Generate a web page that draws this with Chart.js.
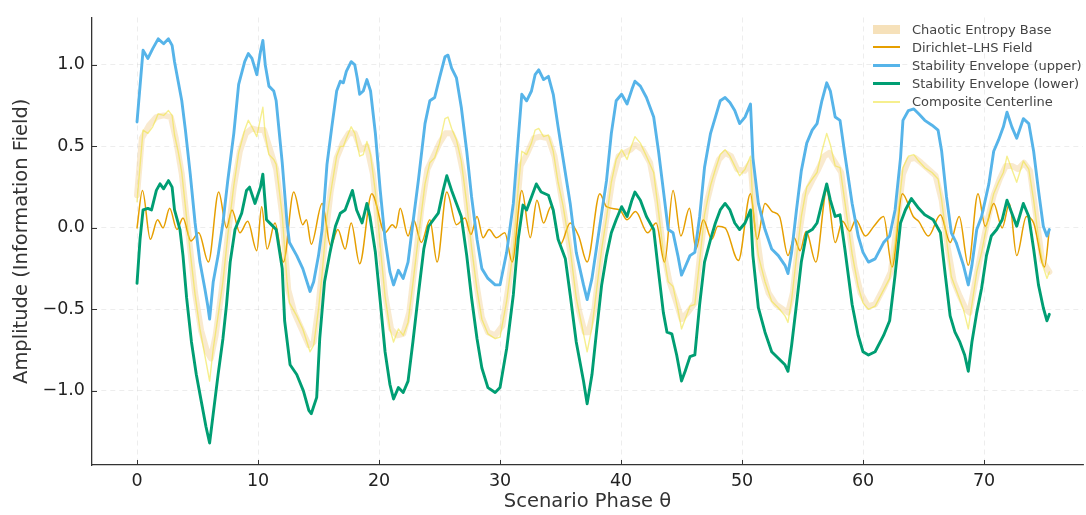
<!DOCTYPE html>
<html>
<head>
<meta charset="utf-8">
<title>Amplitude vs Scenario Phase</title>
<script src="https://cdn.jsdelivr.net/npm/chart.js@4.4.1/dist/chart.umd.min.js"></script>
<style>
  body { margin: 0; background: #fff; }
  #wrap { position: relative; width: 1086px; height: 515px; }
  #legend {
    position: absolute; left: 873px; top: 20px;
    font: 13px "DejaVu Sans", sans-serif; color: #444;
  }
  .item { display: flex; align-items: center; height: 18.2px; white-space: nowrap; }
  .swatch { width: 27px; margin-right: 12px; }
</style>
</head>
<body>
<div id="wrap">
  <canvas id="chart" width="1086" height="515"></canvas>
  <div id="legend"></div>
</div>
<script>
// tick positions
const xTicks = [0, 10, 20, 30, 40, 50, 60, 70];
const yTicks = [-1, -0.5, 0, 0.5, 1];

// [theta, amplitude] pairs
const entropyBase = [
  [0,0.2],[0.4,0.55],[1.0,0.63],[1.6,0.68],[2.2,0.69],[2.8,0.68],[3.2,0.55],[3.7,0.33],[4.2,0.0],[4.8,-0.4],
  [5.3,-0.63],[5.8,-0.76],[6.1,-0.8],[6.5,-0.66],[7.0,-0.38],[7.5,-0.05],[8.0,0.25],[8.5,0.47],[9.0,0.58],[9.5,0.61],
  [10.0,0.6],[10.5,0.6],[11.0,0.48],[11.5,0.36],[12.0,0.08],[12.5,-0.38],[13.0,-0.52],[13.6,-0.62],[14.2,-0.72],[14.6,-0.7],
  [15.0,-0.48],[15.5,-0.1],[16.0,0.22],[16.5,0.43],[17.0,0.52],[17.5,0.58],[18.0,0.58],[18.5,0.48],[19.0,0.5],[19.5,0.33],
  [20.0,-0.05],[20.5,-0.41],[21.0,-0.62],[21.5,-0.66],[22.0,-0.65],[22.5,-0.52],[23.0,-0.2],[23.5,0.12],[24.0,0.36],[24.5,0.44],
  [25.0,0.52],[25.5,0.58],[26.0,0.58],[26.5,0.5],[27.0,0.32],[27.5,-0.02],[28.0,-0.32],[28.5,-0.55],[29.0,-0.64],[29.6,-0.66],
  [30.2,-0.6],[30.7,-0.36],[31.2,-0.05],[31.7,0.38],[32.2,0.45],[32.8,0.55],[33.3,0.56],[34.0,0.55],[34.5,0.44],[35.0,0.22],
  [35.5,0.0],[36.0,-0.25],[36.5,-0.5],[37.0,-0.64],[37.3,-0.64],[37.8,-0.5],[38.3,-0.18],[38.8,0.06],[39.3,0.3],[39.8,0.44],
  [40.3,0.46],[40.8,0.48],[41.2,0.51],[41.8,0.48],[42.4,0.4],[43.0,0.16],[43.5,-0.14],[44.0,-0.33],[44.5,-0.44],[45.0,-0.56],
  [45.5,-0.52],[46.1,-0.46],[46.6,-0.12],[47.1,0.16],[47.6,0.31],[48.1,0.42],[48.6,0.46],[49.1,0.44],[49.6,0.36],[50.2,0.35],
  [50.7,0.4],[51.1,0.02],[51.6,-0.25],[52.2,-0.4],[52.8,-0.47],[53.4,-0.5],[53.8,-0.52],[54.2,-0.4],[54.7,-0.05],[55.2,0.2],
  [55.8,0.29],[56.3,0.36],[56.8,0.44],[57.2,0.46],[57.7,0.4],[58.2,0.34],[58.7,0.06],[59.3,-0.24],[59.8,-0.4],[60.4,-0.48],
  [61.0,-0.47],[61.7,-0.37],[62.3,-0.27],[62.8,0.02],[63.3,0.33],[63.8,0.42],[64.3,0.43],[64.8,0.4],[65.4,0.36],[66.0,0.32],
  [66.5,0.17],[67.0,-0.12],[67.5,-0.33],[68.0,-0.42],[68.5,-0.5],[68.8,-0.52],[69.2,-0.36],[69.7,-0.17],[70.3,0.05],[70.8,0.2],
  [71.3,0.3],[71.8,0.38],[72.3,0.38],[72.8,0.36],[73.3,0.4],[73.8,0.35],[74.3,0.08],[74.8,-0.2],[75.4,-0.27]
];

const dirichletField = [
  [0,0.0],[0.45,0.23],[1.1,-0.07],[1.7,0.05],[2.15,0.0],[2.7,0.12],[3.3,-0.01],[3.8,0.06],[4.45,-0.08],[5.1,-0.03],
  [5.9,-0.21],[6.75,0.22],[7.4,0.0],[7.85,0.11],[8.5,-0.03],[9.15,0.04],[9.9,-0.14],[10.3,0.13],[10.75,-0.13],[11.4,0.03],
  [12.1,-0.21],[12.95,0.22],[13.7,0.02],[14.0,0.05],[14.4,-0.1],[15.3,0.15],[16.0,-0.11],[16.6,-0.01],[17.2,-0.13],[17.7,0.03],
  [18.4,-0.22],[19.4,0.21],[20.5,-0.03],[21.1,0.02],[21.4,0.0],[21.75,0.12],[22.4,-0.05],[22.85,0.05],[23.5,-0.09],[24.2,0.05],
  [24.8,-0.21],[25.6,0.22],[26.4,0.02],[27.1,0.06],[27.6,-0.04],[28.1,0.07],[28.6,-0.06],[29.1,-0.01],[29.7,-0.06],[30.4,-0.03],
  [31.0,-0.21],[31.8,0.23],[32.5,-0.06],[33.05,0.17],[33.6,0.03],[34.2,0.13],[35.0,-0.1],[35.8,0.03],[36.5,-0.05],[37.2,-0.21],
  [38.25,0.21],[38.8,0.13],[39.9,0.11],[40.5,0.05],[41.2,0.1],[42.2,-0.03],[42.9,0.03],[43.6,-0.21],[44.3,0.23],[44.95,-0.05],
  [45.65,0.12],[46.2,-0.13],[46.8,0.05],[47.5,-0.07],[48.0,0.01],[48.6,0.0],[49.7,-0.2],[50.7,0.21],[51.25,-0.07],[51.9,0.15],
  [52.5,0.1],[53.1,0.07],[53.8,-0.17],[54.3,-0.06],[54.8,-0.14],[55.3,-0.02],[56.1,-0.21],[57.0,0.23],[57.7,-0.09],[58.3,0.04],
  [58.9,-0.02],[59.4,0.05],[60.2,-0.05],[60.9,0.01],[61.7,0.07],[62.4,-0.24],[63.25,0.21],[64.15,0.07],[64.6,0.04],[65.4,-0.05],
  [66.4,0.08],[67.2,-0.09],[67.95,0.07],[68.7,-0.23],[69.5,0.21],[70.1,0.01],[70.8,0.15],[71.5,0.0],[72.1,0.15],[72.7,-0.17],
  [73.5,0.07],[74.1,0.03],[75.0,-0.24],[75.4,-0.01]
];

const upperEnvelope = [
  [0,0.65],[0.5,1.09],[0.9,1.04],[1.3,1.1],[1.75,1.16],[2.2,1.13],[2.6,1.16],[2.9,1.12],[3.1,1.02],[3.4,0.9],
  [3.7,0.78],[4.0,0.6],[4.4,0.33],[4.8,0.03],[5.2,-0.21],[5.6,-0.37],[5.85,-0.48],[6.0,-0.56],[6.3,-0.33],[6.7,-0.17],
  [7.1,0.03],[7.5,0.29],[8.0,0.58],[8.4,0.88],[8.9,1.02],[9.2,1.07],[9.5,1.04],[9.9,0.94],[10.2,1.08],[10.4,1.15],
  [10.6,1.0],[10.9,0.87],[11.3,0.84],[11.5,0.78],[12.0,0.4],[12.4,0.03],[12.6,-0.09],[13.2,-0.17],[13.7,-0.25],[14.3,-0.39],
  [14.6,-0.33],[15.0,-0.17],[15.3,-0.01],[15.7,0.39],[16.1,0.62],[16.5,0.84],[16.8,0.9],[17.05,0.89],[17.3,0.96],[17.7,1.02],
  [18.0,1.0],[18.2,0.92],[18.4,0.82],[18.7,0.84],[19.0,0.91],[19.3,0.84],[19.7,0.58],[20.1,0.23],[20.5,-0.07],[20.9,-0.27],
  [21.2,-0.35],[21.6,-0.26],[22.0,-0.31],[22.4,-0.21],[22.8,0.03],[23.25,0.29],[23.8,0.64],[24.2,0.78],[24.6,0.8],[25.0,0.92],
  [25.45,1.05],[25.7,1.06],[26.0,0.98],[26.4,0.92],[26.8,0.74],[27.25,0.47],[27.65,0.19],[28.1,-0.07],[28.5,-0.25],[29.0,-0.31],
  [29.6,-0.35],[30.0,-0.35],[30.55,-0.15],[31.1,0.15],[31.5,0.54],[31.8,0.82],[32.2,0.78],[32.6,0.84],[32.9,0.94],[33.2,0.97],
  [33.6,0.91],[34.0,0.93],[34.4,0.82],[34.8,0.62],[35.2,0.43],[35.8,0.15],[36.3,-0.15],[36.9,-0.35],[37.2,-0.44],[37.6,-0.31],
  [38.0,-0.11],[38.4,0.09],[38.8,0.29],[39.2,0.58],[39.6,0.78],[40.05,0.82],[40.5,0.76],[40.9,0.85],[41.15,0.9],[41.6,0.87],
  [42.1,0.8],[42.7,0.68],[43.1,0.47],[43.5,0.23],[43.9,-0.01],[44.3,-0.03],[44.7,-0.17],[45.0,-0.29],[45.3,-0.24],[45.7,-0.17],
  [46.1,-0.15],[46.5,0.07],[46.9,0.37],[47.4,0.58],[47.8,0.68],[48.2,0.78],[48.6,0.8],[49.0,0.77],[49.4,0.72],[49.8,0.64],
  [50.25,0.68],[50.7,0.76],[50.9,0.43],[51.35,0.15],[51.9,-0.01],[52.45,-0.13],[53.0,-0.17],[53.55,-0.23],[53.8,-0.28],[54.1,-0.15],
  [54.5,0.11],[54.9,0.35],[55.35,0.52],[55.8,0.6],[56.2,0.64],[56.6,0.78],[57.0,0.89],[57.3,0.84],[57.7,0.68],[58.1,0.66],
  [58.5,0.45],[59.1,0.15],[59.6,-0.05],[60.0,-0.15],[60.45,-0.21],[61.0,-0.19],[61.7,-0.09],[62.2,-0.05],[62.65,0.11],[63.1,0.43],
  [63.3,0.66],[63.75,0.72],[64.2,0.73],[64.6,0.7],[65.1,0.66],[65.7,0.63],[66.2,0.6],[66.5,0.47],[66.9,0.19],[67.3,-0.03],
  [67.7,-0.09],[68.3,-0.23],[68.7,-0.35],[69.0,-0.23],[69.4,-0.01],[69.8,0.07],[70.4,0.27],[70.8,0.47],[71.2,0.54],[71.6,0.62],
  [71.9,0.71],[72.3,0.62],[72.7,0.55],[73.25,0.67],[73.7,0.64],[74.1,0.47],[74.5,0.23],[74.9,0.01],[75.2,-0.05],[75.4,-0.01]
];

const lowerEnvelope = [
  [0,-0.34],[0.25,-0.07],[0.5,0.11],[0.9,0.12],[1.2,0.11],[1.6,0.23],[1.9,0.27],[2.2,0.24],[2.6,0.29],[2.9,0.25],
  [3.1,0.11],[3.55,-0.01],[3.8,-0.17],[4.1,-0.43],[4.5,-0.7],[4.9,-0.9],[5.35,-1.08],[5.7,-1.22],[6.0,-1.32],[6.3,-1.14],
  [6.7,-0.9],[7.1,-0.68],[7.4,-0.47],[7.7,-0.21],[8.1,-0.01],[8.65,0.09],[9.05,0.23],[9.3,0.25],[9.75,0.15],[10.2,0.25],
  [10.4,0.33],[10.7,0.05],[11.1,0.02],[11.5,-0.01],[12.0,-0.25],[12.2,-0.57],[12.65,-0.84],[13.2,-0.9],[13.75,-1.0],[14.2,-1.12],
  [14.4,-1.14],[14.85,-1.04],[15.1,-0.68],[15.5,-0.33],[15.95,-0.15],[16.4,0.01],[16.8,0.09],[17.2,0.11],[17.5,0.17],[17.8,0.23],
  [18.15,0.11],[18.6,0.03],[19.0,0.15],[19.25,0.07],[19.7,-0.15],[20.1,-0.45],[20.5,-0.76],[20.9,-0.96],[21.2,-1.05],[21.6,-0.98],
  [22.0,-1.01],[22.4,-0.94],[22.8,-0.7],[23.25,-0.41],[23.7,-0.13],[24.1,0.01],[24.5,0.05],[24.9,0.09],[25.3,0.23],[25.6,0.32],
  [26.0,0.23],[26.4,0.15],[26.8,0.07],[27.25,-0.17],[27.65,-0.43],[28.1,-0.68],[28.5,-0.86],[29.0,-0.98],[29.6,-1.01],[30.0,-0.98],
  [30.55,-0.74],[31.1,-0.41],[31.5,-0.07],[31.9,0.14],[32.2,0.11],[32.6,0.19],[33.0,0.27],[33.4,0.22],[34.0,0.2],[34.4,0.11],
  [34.8,-0.07],[35.4,-0.19],[35.8,-0.41],[36.3,-0.7],[36.9,-0.94],[37.2,-1.08],[37.6,-0.9],[38.0,-0.62],[38.4,-0.35],[38.8,-0.17],
  [39.2,-0.03],[39.6,0.05],[40.05,0.13],[40.5,0.07],[40.9,0.17],[41.15,0.22],[41.6,0.17],[42.1,0.07],[42.7,-0.01],[43.1,-0.27],
  [43.5,-0.52],[43.8,-0.64],[44.2,-0.65],[44.6,-0.78],[45.0,-0.94],[45.3,-0.88],[45.7,-0.79],[46.1,-0.78],[46.5,-0.47],[46.9,-0.21],
  [47.4,-0.07],[47.8,0.03],[48.2,0.11],[48.6,0.15],[49.0,0.11],[49.4,0.03],[49.8,-0.01],[50.25,0.03],[50.7,0.11],[50.9,-0.17],
  [51.35,-0.49],[51.9,-0.64],[52.45,-0.76],[53.0,-0.8],[53.55,-0.84],[53.8,-0.88],[54.1,-0.72],[54.5,-0.47],[54.9,-0.21],[55.35,-0.03],
  [55.8,-0.01],[56.2,0.03],[56.6,0.15],[57.0,0.27],[57.3,0.17],[57.7,0.07],[58.1,0.08],[58.5,-0.13],[59.1,-0.47],[59.6,-0.66],
  [60.0,-0.76],[60.45,-0.78],[61.0,-0.76],[61.7,-0.66],[62.2,-0.57],[62.65,-0.29],[63.1,0.03],[63.5,0.11],[64.0,0.18],[64.6,0.12],
  [65.1,0.08],[65.8,0.05],[66.4,-0.03],[66.8,-0.29],[67.2,-0.54],[67.6,-0.64],[68.0,-0.7],[68.4,-0.78],[68.7,-0.88],[69.0,-0.7],
  [69.4,-0.52],[69.8,-0.37],[70.2,-0.17],[70.6,-0.05],[71.05,-0.01],[71.5,0.05],[71.9,0.17],[72.3,0.09],[72.7,0.01],[73.25,0.15],
  [73.7,0.07],[74.1,-0.13],[74.5,-0.35],[74.9,-0.49],[75.2,-0.57],[75.4,-0.53]
];

const compositeCenterline = [
  [0,0.16],[0.5,0.6],[0.9,0.58],[1.3,0.62],[1.75,0.7],[2.2,0.69],[2.6,0.72],[2.9,0.69],[3.1,0.57],[3.4,0.47],
  [3.7,0.34],[4.0,0.13],[4.4,-0.15],[4.8,-0.41],[5.2,-0.62],[5.6,-0.78],[6.0,-0.94],[6.3,-0.74],[6.7,-0.54],[7.1,-0.33],
  [7.5,-0.05],[8.0,0.26],[8.4,0.46],[8.9,0.6],[9.2,0.66],[9.5,0.62],[9.9,0.56],[10.2,0.67],[10.4,0.74],[10.6,0.57],
  [10.9,0.45],[11.3,0.42],[11.5,0.39],[12.0,0.08],[12.4,-0.33],[12.6,-0.46],[13.2,-0.54],[13.7,-0.62],[14.3,-0.76],[14.6,-0.72],
  [15.0,-0.5],[15.3,-0.28],[15.7,0.07],[16.1,0.26],[16.5,0.44],[16.8,0.5],[17.05,0.5],[17.3,0.55],[17.7,0.62],[18.0,0.58],
  [18.2,0.51],[18.4,0.44],[18.7,0.45],[19.0,0.53],[19.3,0.45],[19.7,0.22],[20.1,-0.11],[20.5,-0.42],[20.9,-0.62],[21.2,-0.7],
  [21.6,-0.62],[22.0,-0.66],[22.4,-0.58],[22.8,-0.34],[23.25,-0.06],[23.8,0.27],[24.2,0.4],[24.6,0.43],[25.0,0.52],[25.45,0.67],
  [25.7,0.68],[26.0,0.61],[26.4,0.54],[26.8,0.41],[27.25,0.15],[27.65,-0.12],[28.1,-0.38],[28.5,-0.56],[29.0,-0.65],[29.6,-0.68],
  [30.0,-0.67],[30.55,-0.45],[31.1,-0.13],[31.5,0.24],[31.8,0.47],[32.2,0.45],[32.6,0.52],[32.9,0.6],[33.2,0.61],[33.6,0.56],
  [34.0,0.57],[34.4,0.47],[34.8,0.28],[35.2,0.14],[35.8,-0.13],[36.3,-0.43],[36.9,-0.65],[37.2,-0.76],[37.6,-0.61],[38.0,-0.37],
  [38.4,-0.13],[38.8,0.06],[39.2,0.28],[39.6,0.42],[40.05,0.48],[40.5,0.42],[40.9,0.51],[41.15,0.56],[41.6,0.52],[42.1,0.44],
  [42.7,0.34],[43.1,0.1],[43.5,-0.15],[43.9,-0.33],[44.3,-0.36],[44.7,-0.5],[45.0,-0.62],[45.3,-0.56],[45.7,-0.48],[46.1,-0.47],
  [46.5,-0.2],[46.9,0.08],[47.4,0.26],[47.8,0.36],[48.2,0.45],[48.6,0.48],[49.0,0.44],[49.4,0.38],[49.8,0.32],[50.25,0.36],
  [50.7,0.44],[50.9,0.13],[51.35,-0.17],[51.9,-0.33],[52.45,-0.45],[53.0,-0.49],[53.55,-0.54],[53.8,-0.58],[54.1,-0.44],[54.5,-0.18],
  [54.9,0.07],[55.35,0.25],[55.8,0.3],[56.2,0.34],[56.6,0.47],[57.0,0.58],[57.3,0.51],[57.7,0.38],[58.1,0.37],[58.5,0.16],
  [59.1,-0.16],[59.6,-0.36],[60.0,-0.46],[60.45,-0.5],[61.0,-0.48],[61.7,-0.38],[62.2,-0.31],[62.65,-0.09],[63.1,0.23],[63.3,0.37],
  [63.75,0.44],[64.2,0.45],[64.6,0.41],[65.1,0.37],[65.7,0.34],[66.2,0.3],[66.5,0.17],[66.9,-0.07],[67.3,-0.3],[67.7,-0.38],
  [68.3,-0.5],[68.7,-0.62],[69.0,-0.47],[69.4,-0.27],[69.8,-0.15],[70.4,0.08],[70.8,0.21],[71.2,0.28],[71.6,0.34],[71.9,0.44],
  [72.3,0.36],[72.7,0.28],[73.25,0.41],[73.7,0.36],[74.1,0.17],[74.5,-0.06],[74.9,-0.24],[75.2,-0.31],[75.4,-0.27]
];

const FONT = "DejaVu Sans";

// matplotlib style ticks pointing into the plot
const inwardTicks = {
  id: "inwardTicks",
  afterDraw(chart) {
    const { ctx, chartArea, scales } = chart;
    ctx.save();
    ctx.strokeStyle = "#333";
    ctx.lineWidth = 1;
    ctx.beginPath();
    xTicks.forEach((v) => {
      const px = Math.round(scales.x.getPixelForValue(v)) + 0.5;
      ctx.moveTo(px, chartArea.bottom);
      ctx.lineTo(px, chartArea.bottom - 5);
    });
    yTicks.forEach((v) => {
      const py = Math.round(scales.y.getPixelForValue(v)) + 0.5;
      ctx.moveTo(chartArea.left, py);
      ctx.lineTo(chartArea.left + 5, py);
    });
    ctx.stroke();
    ctx.restore();
  },
};

const fmtY = (v) => v.toFixed(1).replace("-", "\u2212");

const chart = new Chart(document.getElementById("chart"), {
  type: "line",
  data: {
    datasets: [
      { label: "Chaotic Entropy Base", data: entropyBase, borderColor: "rgba(240,205,140,0.42)", borderWidth: 6, order: 5 },
      { label: "Dirichlet\u2013LHS Field", data: dirichletField, borderColor: "#E69F00", borderWidth: 1.5, cubicInterpolationMode: "monotone", order: 4 },
      { label: "Stability Envelope (upper)", data: upperEnvelope, borderColor: "#56B4E9", borderWidth: 2.9, order: 3 },
      { label: "Stability Envelope (lower)", data: lowerEnvelope, borderColor: "#009E73", borderWidth: 2.9, order: 2 },
      { label: "Composite Centerline", data: compositeCenterline, borderColor: "rgba(240,228,66,0.6)", borderWidth: 1.4, order: 1 },
    ],
  },
  options: {
    responsive: false,
    animation: false,
    devicePixelRatio: 1,
    layout: { padding: { left: 0, right: 3, top: 12, bottom: 0 } },
    elements: {
      point: { radius: 0, hoverRadius: 0 },
      line: { tension: 0, borderJoinStyle: "round", borderCapStyle: "round", fill: false },
    },
    plugins: { legend: { display: false }, tooltip: { enabled: false } },
    scales: {
      x: {
        type: "linear",
        min: -3.72,
        max: 78.18,
        afterBuildTicks: (s) => { s.ticks = xTicks.map((v) => ({ value: v })); },
        afterFit: (s) => { s.height = 50; },
        grid: { color: "rgba(0,0,0,0.09)", lineWidth: 0.8, drawTicks: false },
        border: { display: true, color: "#333", width: 1.3, dash: [5, 4] },
        ticks: { color: "#222", font: { family: FONT, size: 17.5 }, padding: 6, maxRotation: 0, callback: (v) => String(v) },
        title: { display: true, text: "Scenario Phase \u03b8", color: "#333", font: { family: FONT, size: 19.5 }, padding: { top: 0, bottom: 1 } },
      },
      y: {
        min: -1.455,
        max: 1.291,
        afterBuildTicks: (s) => { s.ticks = yTicks.map((v) => ({ value: v })); },
        afterFit: (s) => { s.width = 92; },
        grid: { color: "rgba(0,0,0,0.09)", lineWidth: 0.8, drawTicks: false },
        border: { display: true, color: "#333", width: 1.3, dash: [5, 4] },
        ticks: { color: "#222", font: { family: FONT, size: 17.5 }, padding: 7, callback: (v) => fmtY(v) },
        title: { display: true, text: "Amplitude (Information Field)", color: "#333", font: { family: FONT, size: 19.5 }, padding: { top: 10, bottom: 0 } },
      },
    },
  },
  plugins: [inwardTicks],
});

// legend drawn inside the plot, top right
const legendBox = document.getElementById("legend");
chart.data.datasets.forEach((ds, i) => {
  const item = document.createElement("div");
  item.className = "item";
  const sw = document.createElement("span");
  sw.className = "swatch";
  sw.style.background = i === 0 ? "rgba(240,205,140,0.6)" : ds.borderColor;
  sw.style.height = i === 0 ? "9px" : Math.max(2, ds.borderWidth) + "px";
  const txt = document.createElement("span");
  txt.textContent = ds.label;
  item.appendChild(sw);
  item.appendChild(txt);
  legendBox.appendChild(item);
});
</script>
</body>
</html>
